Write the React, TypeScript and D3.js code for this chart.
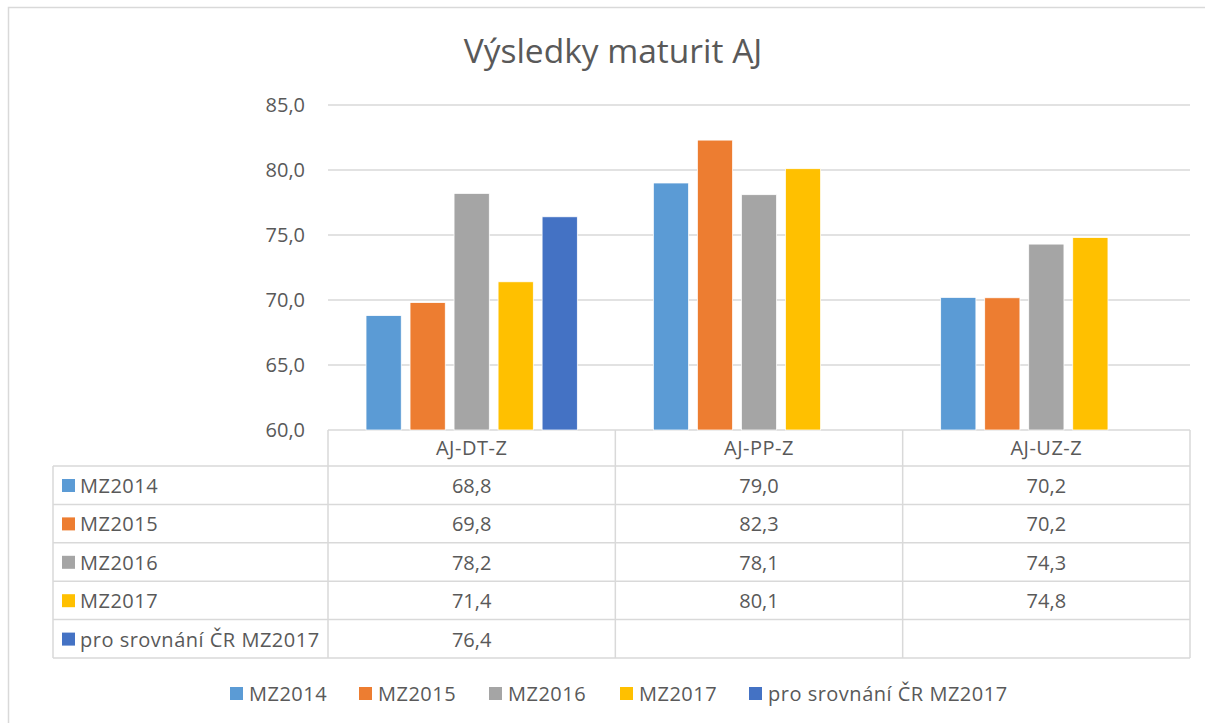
import React from "react";
import * as d3 from "d3";

const categories = ["AJ-DT-Z", "AJ-PP-Z", "AJ-UZ-Z"];
const seriesNames = ["MZ2014", "MZ2015", "MZ2016", "MZ2017", "pro srovnání ČR MZ2017"];
const mz2014 = [68.8, 79.0, 70.2];
const mz2015 = [69.8, 82.3, 70.17];
const mz2016 = [78.2, 78.1, 74.3];
const mz2017 = [71.4, 80.1, 74.8];
const crMz2017 = [76.4, null, null];
const colors = ["#5B9BD5", "#ED7D31", "#A5A5A5", "#FFC000", "#4472C4"];
const yTicks = [60, 65, 70, 75, 80, 85];

const values: (number | null)[][] = [mz2014, mz2015, mz2016, mz2017, crMz2017];

const W = 1205;
const H = 723;
const FONT = "'Open Sans', 'Noto Sans', sans-serif";
const TXT = "#595959";
const GRID = "#d9d9d9";
const FS = 20;
const LS = 0.5;

const fmt = (v: number) => v.toFixed(1).replace(".", ",");

export default function App() {
  const left = 328;
  const right = 1190;
  const top = 105;
  const bottom = 430;
  const tableLeft = 53;
  const headerBottom = 466;
  const rowH = 38.4;

  const y = d3.scaleLinear().domain([60, 85]).range([bottom, top]);
  const x0 = d3.scaleBand().domain(categories).range([left, right]).padding(0);
  const bw = x0.bandwidth();
  const groupW = bw * 0.766;
  const x1 = d3
    .scaleBand()
    .domain(seriesNames)
    .range([(bw - groupW) / 2, (bw + groupW) / 2])
    .paddingInner(0.2)
    .paddingOuter(0.1);

  const tableBottom = headerBottom + rowH * seriesNames.length;
  const colEdges = [left, ...categories.map((c) => (x0(c) as number) + bw)];

  const legendX = [230, 359, 489, 620, 749];

  return (
    <svg width={W} height={H} style={{ position: "absolute", left: 0, top: 0 }} fontFamily={FONT}>
      <rect x={0} y={0} width={W} height={H} fill="#fff" />
      <rect x={8.5} y={7.5} width={W + 20} height={H + 20} fill="none" stroke={GRID} strokeWidth={1.5} />

      <text x={613} y={63} textAnchor="middle" fontSize={33.5} fill={TXT}>
        Výsledky maturit AJ
      </text>

      {yTicks.map((t) => (
        <g key={t}>
          <line x1={left} x2={right} y1={y(t)} y2={y(t)} stroke={GRID} strokeWidth={1.5} />
          <text x={305} y={y(t) + 7} textAnchor="end" fontSize={FS} fill={TXT}>
            {fmt(t)}
          </text>
        </g>
      ))}

      {values.map((vals, si) =>
        vals.map((v, ci) =>
          v == null ? null : (
            <rect
              key={`${si}-${ci}`}
              x={(x0(categories[ci]) as number) + (x1(seriesNames[si]) as number)}
              y={y(v)}
              width={x1.bandwidth()}
              height={bottom - y(v)}
              fill={colors[si]}
              stroke="#fff"
              strokeWidth={0.75}
            />
          )
        )
      )}

      {/* data table */}
      <g stroke={GRID} strokeWidth={1.5}>
        {colEdges.map((cx, i) => (
          <line key={`v${i}`} x1={cx} x2={cx} y1={bottom} y2={tableBottom} />
        ))}
        <line x1={tableLeft} x2={tableLeft} y1={headerBottom} y2={tableBottom} />
        {seriesNames.map((_, i) => (
          <line key={`h${i}`} x1={tableLeft} x2={right} y1={headerBottom + rowH * i} y2={headerBottom + rowH * i} />
        ))}
        <line x1={tableLeft} x2={right} y1={tableBottom} y2={tableBottom} />
      </g>

      {categories.map((c) => (
        <text key={c} x={(x0(c) as number) + bw / 2} y={headerBottom - 11} textAnchor="middle" fontSize={FS} letterSpacing={LS} fill={TXT}>
          {c}
        </text>
      ))}

      {seriesNames.map((s, si) => {
        const ry = headerBottom + rowH * si;
        return (
          <g key={s}>
            <rect x={62} y={ry + 13} width={13} height={13} fill={colors[si]} />
            <text x={80} y={ry + 27} fontSize={FS} letterSpacing={LS} fill={TXT}>
              {s}
            </text>
            {values[si].map((v, ci) =>
              v == null ? null : (
                <text
                  key={ci}
                  x={(x0(categories[ci]) as number) + bw / 2}
                  y={ry + 27}
                  textAnchor="middle"
                  fontSize={FS}
                  fill={TXT}
                >
                  {fmt(v)}
                </text>
              )
            )}
          </g>
        );
      })}

      {/* legend */}
      {seriesNames.map((s, si) => (
        <g key={`lg-${s}`}>
          <rect x={legendX[si]} y={687} width={13} height={13} fill={colors[si]} />
          <text x={legendX[si] + 19} y={701} fontSize={FS} letterSpacing={LS} fill={TXT}>
            {s}
          </text>
        </g>
      ))}
    </svg>
  );
}
